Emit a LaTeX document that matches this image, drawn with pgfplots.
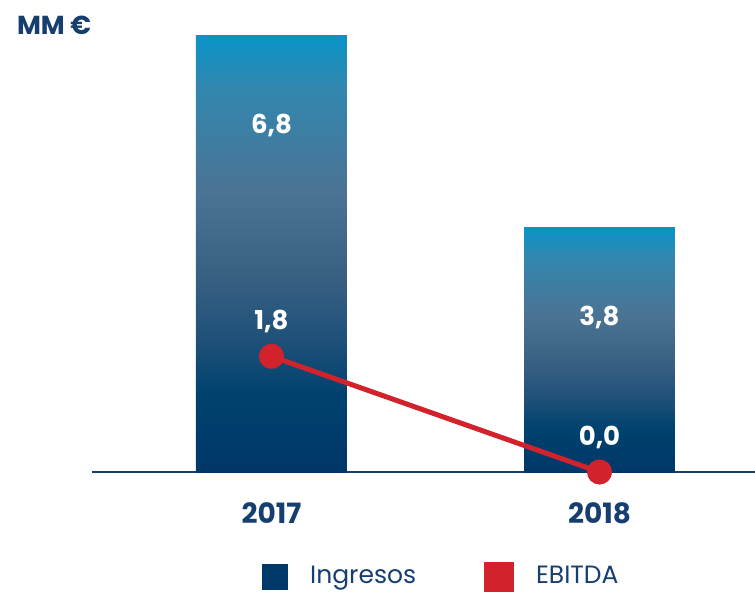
\documentclass[border=0pt]{standalone}
\usepackage{fontspec}
\setmainfont{Poppins}
\usepackage{pgfplots}
\pgfplotsset{compat=1.18}

\definecolor{navy}{RGB}{0,56,106}
\definecolor{txtnavy}{RGB}{22,62,110}
\definecolor{ebred}{RGB}{210,35,45}
% bar gradient, bottom -> top
\definecolor{sh0}{RGB}{0,55,105}
\definecolor{sh1}{RGB}{0,66,110}
\definecolor{sh2}{RGB}{30,80,120}
\definecolor{sh3}{RGB}{55,95,130}
\definecolor{sh4}{RGB}{75,115,148}
\definecolor{sh5}{RGB}{50,135,175}
\definecolor{sh6}{RGB}{8,148,200}
\pgfdeclareverticalshading{barshade}{100bp}{color(0bp)=(sh0); color(25bp)=(sh0); color(34bp)=(sh1); color(40bp)=(sh2); color(47bp)=(sh3); color(57bp)=(sh4); color(69bp)=(sh5); color(75bp)=(sh6); color(100bp)=(sh6)}

\pgfplotsset{
  barstyle/.style={ybar, bar width=0.46, draw=none, shade, shading=barshade, forget plot,
    point meta=explicit symbolic, nodes near coords,
    nodes near coords style={anchor=center, yshift=-45pt, text=white,
      font=\fontsize{13}{13}\selectfont\bfseries}},
}

\begin{document}
\begin{tikzpicture}
\path[use as bounding box] (0,0) rectangle (377.5pt,297.5pt);
\begin{axis}[
  at={(46pt,61.5pt)}, anchor=south west,
  scale only axis, width=331.5pt, height=218.5pt,
  xmin=-0.547, xmax=1.474, ymin=0, ymax=6.8,
  axis x line*=bottom, axis y line=none,
  x axis line style={-, draw=txtnavy, line width=0.8pt},
  xtick={0,1}, xticklabels={2017,2018}, major tick length=0pt,
  xticklabel style={font=\fontsize{14}{14}\selectfont\bfseries, text=txtnavy, yshift=-12pt},
  ytick=\empty,
  clip=false,
  legend columns=2,
  legend style={draw=none, fill=none, inner sep=0pt,
    at={(axis description cs:0.2564,-0.2746)}, anchor=south west,
    font=\fontsize{12.5}{12.5}\selectfont, text=txtnavy,
    /tikz/every odd column/.append style={column sep=9pt},
    /tikz/every even column/.append style={column sep=32pt}},
]
\addlegendimage{legend image code/.code={\fill[navy] (0pt,-6.25pt) rectangle (12.5pt,6.25pt);}}
\addlegendentry{Ingresos}
\addplot[barstyle] coordinates {(0,6.8)[6,8]};
\addplot[barstyle] coordinates {(1,3.8)[3,8]};
\addplot[ebred, line width=2.5pt, mark=*, mark size=5pt, mark options={fill=ebred, draw=none},
  point meta=explicit symbolic, nodes near coords,
  nodes near coords style={anchor=center, yshift=17.5pt, text=white,
    font=\fontsize{13}{13}\selectfont\bfseries},
  legend image code/.code={\fill[ebred] (0pt,-6.25pt) rectangle (12.5pt,6.25pt);}]
  coordinates {(0,1.8)[1,8] (1,0)[0,0]};
\addlegendentry{EBITDA}
\end{axis}
\node[anchor=west, text=txtnavy, font=\fontsize{13}{13}\selectfont\bfseries] at (5pt,285pt) {MM €};
\end{tikzpicture}
\end{document}
